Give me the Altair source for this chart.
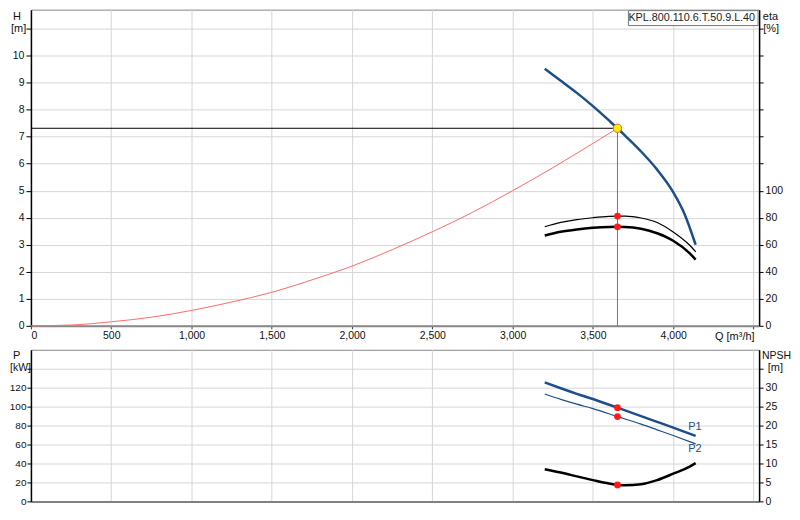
import altair as alt
import pandas as pd

# ---------------- data ----------------
model_name = "KPL.800.110.6.T.50.9.L.40"

q_ticks = [0, 500, 1000, 1500, 2000, 2500, 3000, 3500, 4000, 4500]
h_ticks = [0, 1, 2, 3, 4, 5, 6, 7, 8, 9, 10, 11]
eta_ticks = [0, 20, 40, 60, 80, 100, 120, 140, 160, 180, 200, 220]
p_ticks = [0, 20, 40, 60, 80, 100, 120, 140]
npsh_ticks = [0, 5, 10, 15, 20, 25, 30, 35]

# pump head curve
q_pump = [3200, 3300, 3400, 3500, 3600, 3653, 3700, 3800, 3900, 4000, 4070, 4140]
h_pump = [9.51, 9.07, 8.62, 8.13, 7.60, 7.31, 7.04, 6.45, 5.78, 4.95, 4.15, 3.00]

# system curve
q_sys = [0, 250, 500, 750, 1000, 1250, 1500, 1750, 2000, 2250, 2500, 2750, 3000, 3250, 3500, 3653]
h_sys = [0, 0.03, 0.15, 0.32, 0.57, 0.88, 1.24, 1.70, 2.21, 2.82, 3.48, 4.20, 5.00, 5.85, 6.75, 7.31]

# efficiency curves
q_eta = [3200, 3300, 3400, 3500, 3600, 3653, 3700, 3800, 3900, 4000, 4100, 4140]
eta_hyd = [73.3, 76.5, 78.6, 80.0, 81.0, 81.2, 81.2, 79.8, 76.5, 69.5, 60.0, 54.8]
eta_tot = [66.9, 69.6, 71.3, 72.5, 73.2, 73.3, 73.2, 71.8, 68.5, 63.0, 54.0, 49.0]

# power curves
q_pow = [3200, 3300, 3400, 3500, 3653, 3800, 3900, 4000, 4140]
p1 = [125.6, 119.4, 113.5, 108.0, 98.9, 90.0, 83.9, 77.8, 69.1]
p2 = [113.3, 107.7, 102.6, 97.9, 89.5, 81.5, 75.5, 69.5, 60.7]
p_labels = ["P1", "P2"]
p_label_q = [4135, 4135]
p_label_p = [78, 55]

# NPSH curve
q_npsh = [3200, 3300, 3400, 3500, 3600, 3653, 3700, 3800, 3900, 4000, 4100, 4140]
npsh = [8.5, 7.6, 6.6, 5.6, 4.7, 4.35, 4.25, 4.5, 5.6, 7.3, 9.1, 10.1]

# operating point
q_op = 3653
h_op = 7.31
eta_hyd_op = 81.2
eta_tot_op = 73.3
p1_op = 98.9
p2_op = 89.5
npsh_op = 4.35

# ---------------- tables ----------------
df_pump = pd.DataFrame({"Q": q_pump, "H": h_pump})
df_sys = pd.DataFrame({"Q": q_sys, "H": h_sys})
df_eta_h = pd.DataFrame({"Q": q_eta, "eta": eta_hyd})
df_eta_t = pd.DataFrame({"Q": q_eta, "eta": eta_tot})
df_p1 = pd.DataFrame({"Q": q_pow, "P": p1})
df_p2 = pd.DataFrame({"Q": q_pow, "P": p2})
df_plab = pd.DataFrame({"Q": p_label_q, "P": p_label_p, "t": p_labels})
df_npsh = pd.DataFrame({"Q": q_npsh, "N": npsh})
df_op = pd.DataFrame({"Q": [q_op], "H": [h_op], "Q0": [0], "H0": [0]})
df_op_eta = pd.DataFrame({"Q": [q_op, q_op], "eta": [eta_hyd_op, eta_tot_op]})
df_op_p = pd.DataFrame({"Q": [q_op, q_op], "P": [p1_op, p2_op]})
df_op_n = pd.DataFrame({"Q": [q_op], "N": [npsh_op]})
df_name = pd.DataFrame({"t": [model_name]})

W = 730
H_TOP = 317
H_BOT = 152
BLUE = "#1c4f8a"
RED = "#ff1a1a"
FONT = "Liberation Sans"
TXT = "#111"

x_scale = alt.Scale(domain=[0, 4535], nice=False, zero=False)
x_top_axis = alt.Axis(values=q_ticks, labelExpr="datum.value > 4000 ? ' ' : format(datum.value, ',')",
                      labelOverlap=False, tickSize=3, labelPadding=2,
                      domainColor="#888", domainWidth=2, tickColor="#333",
                      title="Q [m³/h]", titleX=W - 5, titleY=5, titleAlign="right",
                      titleBaseline="top", titleAngle=0, titleFontWeight="normal")
x_bot_axis = alt.Axis(values=q_ticks, labels=False, ticks=False, domainColor="#666",
                      domainWidth=1.5, title=None)

h_scale = alt.Scale(domain=[0, 11.7], nice=False, zero=True)
eta_scale = alt.Scale(domain=[0, 234], nice=False, zero=True)
p_scale = alt.Scale(domain=[0, 160], nice=False, zero=True)
n_scale = alt.Scale(domain=[0, 40], nice=False, zero=True)

h_axis = alt.Axis(orient="left", values=h_ticks, labelOverlap=False,
                  labelExpr="datum.value > 10 ? ' ' : datum.label",
                  tickSize=5, labelPadding=2, domainColor="black", domainWidth=1.5,
                  tickColor="black", grid=True, title=None)
eta_axis = alt.Axis(orient="right", values=eta_ticks, labelOverlap=False,
                    labelExpr="datum.value > 100 ? ' ' : datum.label",
                    tickSize=4, labelPadding=2, domainColor="black", domainWidth=1.5,
                    tickColor="black", grid=False, title=None)
p_axis = alt.Axis(orient="left", values=p_ticks, labelOverlap=False,
                  labelExpr="datum.value > 120 ? ' ' : datum.label",
                  tickSize=4, labelPadding=1, labelFontSize=10, domainColor="black", domainWidth=1.5,
                  tickColor="black", grid=True, title=None)
n_axis = alt.Axis(orient="right", values=npsh_ticks, labelOverlap=False,
                  labelExpr="datum.value > 30 ? ' ' : datum.label",
                  tickSize=4, labelPadding=2, domainColor="black", domainWidth=1.5,
                  tickColor="black", grid=False, title=None)

xt = alt.X("Q:Q", scale=x_scale, axis=x_top_axis)
xb = alt.X("Q:Q", scale=x_scale, axis=x_bot_axis)
yh = alt.Y("H:Q", scale=h_scale, axis=h_axis)
ye = alt.Y("eta:Q", scale=eta_scale, axis=eta_axis)
yp = alt.Y("P:Q", scale=p_scale, axis=p_axis)
yn = alt.Y("N:Q", scale=n_scale, axis=n_axis)


def label(text, x, y, align, size=11):
    return alt.Chart(pd.DataFrame({"t": [text]})).mark_text(
        font=FONT, fontSize=size, color=TXT, align=align, baseline="middle"
    ).encode(x=alt.value(x), y=alt.value(y), text="t:N")


# ---------------- top panel ----------------
sys_line = alt.Chart(df_sys).mark_line(color="#ff6b6b", strokeWidth=1, interpolate="monotone").encode(x=xt, y=yh)
h_line = alt.Chart(df_pump).mark_line(color=BLUE, strokeWidth=2.5, interpolate="monotone").encode(x=xt, y=yh)
h_rule = alt.Chart(df_op).mark_rule(color="black", strokeWidth=1).encode(
    x=alt.X("Q0:Q", scale=x_scale, axis=x_top_axis), x2="Q:Q", y=yh)
v_rule = alt.Chart(df_op).mark_rule(color="#777", strokeWidth=1).encode(
    x=xt, y=alt.Y("H0:Q", scale=h_scale, axis=h_axis), y2="H:Q")
op_pt = alt.Chart(df_op).mark_circle(fill="#ffee00", stroke="#e07010", strokeWidth=1, size=70, opacity=1).encode(x=xt, y=yh)
name_box = alt.Chart(df_name).mark_rect(fill="white", stroke="#777", strokeWidth=1).encode(
    x=alt.value(W - 131), x2=alt.value(W - 1), y=alt.value(1), y2=alt.value(16))
name_txt = alt.Chart(df_name).mark_text(font=FONT, fontSize=10.8, color="#222", baseline="middle", align="right").encode(
    x=alt.value(W - 4), y=alt.value(8.5), text="t:N")

left_top = alt.layer(sys_line, h_line, h_rule, v_rule, op_pt, name_box, name_txt,
                     label("H", -18, 7, "left"), label("[m]", -20, 19, "left"),
                     label("eta", W + 19, 7, "right"), label("[%]", W + 20, 19, "right"))

eta_thin = alt.Chart(df_eta_h).mark_line(color="black", strokeWidth=1.2, interpolate="monotone").encode(x=xt, y=ye)
eta_thick = alt.Chart(df_eta_t).mark_line(color="black", strokeWidth=2.5, interpolate="monotone").encode(x=xt, y=ye)
eta_dots = alt.Chart(df_op_eta).mark_circle(color=RED, size=45, opacity=1).encode(x=xt, y=ye)
right_top = alt.layer(eta_thin, eta_thick, eta_dots)

top = alt.layer(left_top, right_top).resolve_scale(y="independent").properties(width=W, height=H_TOP)

# ---------------- bottom panel ----------------
p1_line = alt.Chart(df_p1).mark_line(color=BLUE, strokeWidth=2.5, interpolate="monotone").encode(x=xb, y=yp)
p2_line = alt.Chart(df_p2).mark_line(color=BLUE, strokeWidth=1.2, interpolate="monotone").encode(x=xb, y=yp)
p_txt = alt.Chart(df_plab).mark_text(font=FONT, fontSize=11, color=BLUE).encode(x=xb, y=yp, text="t:N")
p_dots = alt.Chart(df_op_p).mark_circle(color=RED, size=45, opacity=1).encode(x=xb, y=yp)
left_bot = alt.layer(p1_line, p2_line, p_txt, p_dots,
                     label("P", -18, 6, "left"), label("[kW]", -21, 18, "left", size=10.5),
                     label("NPSH", W + 32, 6, "right", size=10.5), label("[m]", W + 24, 18, "right"))

n_line = alt.Chart(df_npsh).mark_line(color="black", strokeWidth=2.5, interpolate="monotone").encode(x=xb, y=yn)
n_dot = alt.Chart(df_op_n).mark_circle(color=RED, size=45, opacity=1).encode(x=xb, y=yn)
right_bot = alt.layer(n_line, n_dot)

bottom = alt.layer(left_bot, right_bot).resolve_scale(y="independent").properties(width=W, height=H_BOT)

chart = alt.vconcat(top, bottom, spacing=6, padding={"left": 0, "top": 0, "right": 0, "bottom": 0}).configure_view(
    stroke="#888", strokeWidth=1
).configure_axis(
    labelFont=FONT, labelFontSize=10.5, labelColor=TXT, labelOverlap=False,
    titleFont=FONT, titleFontSize=11, titleColor=TXT,
    gridColor="#d6d6d6", gridWidth=1,
).properties(background="white")

chart.save("out.html", embed_options={"renderer": "svg", "actions": False})
